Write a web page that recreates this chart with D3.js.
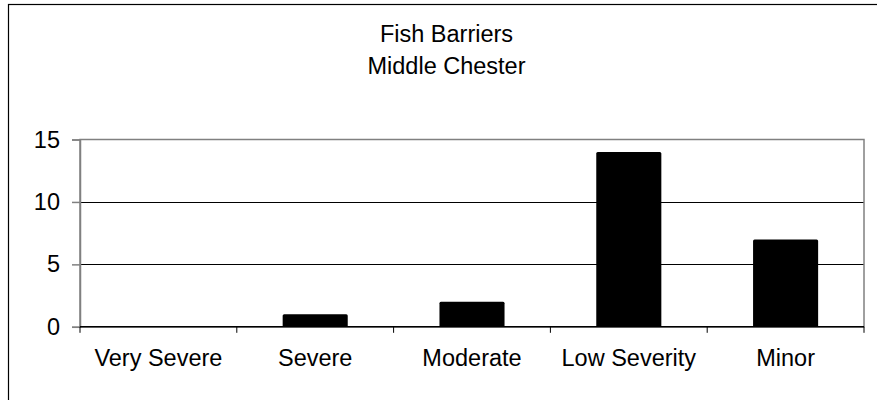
<!DOCTYPE html>
<html><head><meta charset="utf-8">
<script src="https://cdn.jsdelivr.net/npm/d3@7"></script>
<style>html,body{margin:0;padding:0;background:#fff;}svg{display:block;}</style>
</head><body>
<svg id="c" width="877" height="400"></svg>
<script>
const categories = ["Very Severe", "Severe", "Moderate", "Low Severity", "Minor"];
const values = [0, 1, 2, 14, 7];
const yTicks = [0, 5, 10, 15];
const titleLines = ["Fish Barriers", "Middle Chester"];

const svg = d3.select("#c");
const font = "'Liberation Sans', Arial, sans-serif";
const fs = 23.5;
const L = 80, R = 864, T = 139.5, B = 326.8;

// outer chart border (extends past the window on right/bottom)
svg.append("rect").attr("x", 8.5).attr("y", 4.5).attr("width", 900).attr("height", 420)
  .attr("fill", "#fff").attr("stroke", "#000").attr("stroke-width", 1.2);

const x = d3.scaleBand().domain(categories).range([L, R]).paddingInner(0.585).paddingOuter(0.2925);
const y = d3.scaleLinear().domain([0, 15]).range([B, T]);

// gridlines
svg.append("g").selectAll("line").data(yTicks.filter(d => d > 0 && d < 15)).join("line")
  .attr("x1", L).attr("x2", R).attr("y1", d => Math.round(y(d)) + 0.5).attr("y2", d => Math.round(y(d)) + 0.5)
  .attr("stroke", "#000").attr("stroke-width", 1);

// plot border
svg.append("rect").attr("x", L).attr("y", T).attr("width", R - L).attr("height", B - T)
  .attr("fill", "none").attr("stroke", "#808080").attr("stroke-width", 1.5);

// bars
svg.append("g").selectAll("rect").data(values).join("rect")
  .attr("x", (d, i) => x(categories[i]))
  .attr("y", d => y(d))
  .attr("width", x.bandwidth())
  .attr("height", d => y(0) - y(d))
  .attr("rx", 1.5)
  .attr("fill", "#000");

// y axis
const yAxis = svg.append("g").attr("transform", `translate(${L},0)`)
  .call(d3.axisLeft(y).tickValues(yTicks).tickSize(8).tickPadding(12));
yAxis.select(".domain").attr("stroke", "#808080").attr("stroke-width", 1.5);
yAxis.selectAll(".tick line").attr("stroke", "#808080").attr("stroke-width", 1.5);
yAxis.selectAll("text").attr("font-family", font).attr("font-size", fs).attr("fill", "#000");

// x axis with ticks at band boundaries
const xAxisG = svg.append("g");
xAxisG.append("line").attr("x1", L).attr("x2", R).attr("y1", B).attr("y2", B)
  .attr("stroke", "#000").attr("stroke-width", 1.5);
const bounds = categories.map(c => x(c) - x.step() * x.paddingInner() / 2).concat([R]);
xAxisG.selectAll("line.t").data(bounds).join("line").attr("class", "t")
  .attr("x1", d => d).attr("x2", d => d).attr("y1", B).attr("y2", B + 6)
  .attr("stroke", "#000").attr("stroke-width", 1);
xAxisG.selectAll("text").data(categories).join("text")
  .attr("x", d => x(d) + x.bandwidth() / 2).attr("y", 366)
  .attr("text-anchor", "middle").attr("font-family", font).attr("font-size", fs).attr("fill", "#000")
  .text(d => d);

// title
svg.append("g").selectAll("text").data(titleLines).join("text")
  .attr("x", 446.5).attr("y", (d, i) => 41.5 + i * 32.5)
  .attr("text-anchor", "middle").attr("font-family", font).attr("font-size", fs).attr("fill", "#000")
  .text(d => d);
</script>
</body></html>
